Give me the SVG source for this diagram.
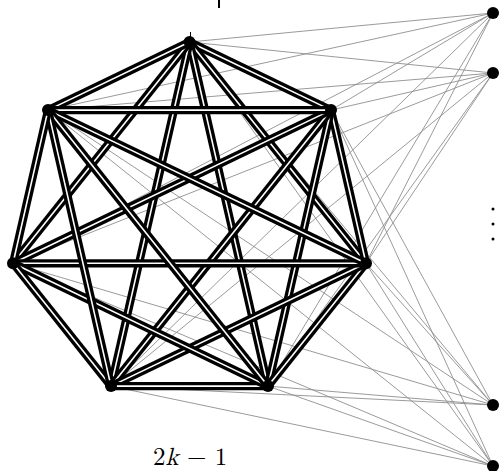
<svg xmlns="http://www.w3.org/2000/svg" width="499" height="471" viewBox="0 0 499 471">
<style>
.g line{stroke:#8f8f8f;stroke-width:0.9}
.b{stroke:#000;stroke-width:8.2}
.w{stroke:#fff;stroke-width:1.6}
.v{fill:#000}
.lbl{font-family:"Latin Modern Math","Liberation Serif",serif;font-size:25px;fill:#000}
</style>
<rect width="499" height="471" fill="#fff"/>
<g id="connectors">
<g class="g">
<line x1="493" y1="13" x2="189.5" y2="42"/><line x1="493" y1="13" x2="331" y2="110.1"/><line x1="493" y1="13" x2="366" y2="263.3"/><line x1="493" y1="13" x2="268" y2="386.1"/><line x1="493" y1="13" x2="111" y2="386.1"/><line x1="493" y1="13" x2="13" y2="263.3"/><line x1="493" y1="13" x2="48" y2="110.1"/>
<line x1="493" y1="73" x2="189.5" y2="42"/><line x1="493" y1="73" x2="331" y2="110.1"/><line x1="493" y1="73" x2="366" y2="263.3"/><line x1="493" y1="73" x2="268" y2="386.1"/><line x1="493" y1="73" x2="111" y2="386.1"/><line x1="493" y1="73" x2="13" y2="263.3"/><line x1="493" y1="73" x2="48" y2="110.1"/>
<line x1="493" y1="405" x2="189.5" y2="42"/><line x1="493" y1="405" x2="331" y2="110.1"/><line x1="493" y1="405" x2="366" y2="263.3"/><line x1="493" y1="405" x2="268" y2="386.1"/><line x1="493" y1="405" x2="111" y2="386.1"/><line x1="493" y1="405" x2="13" y2="263.3"/><line x1="493" y1="405" x2="48" y2="110.1"/>
<line x1="493" y1="466" x2="189.5" y2="42"/><line x1="493" y1="466" x2="331" y2="110.1"/><line x1="493" y1="466" x2="366" y2="263.3"/><line x1="493" y1="466" x2="268" y2="386.1"/><line x1="493" y1="466" x2="111" y2="386.1"/><line x1="493" y1="466" x2="13" y2="263.3"/><line x1="493" y1="466" x2="48" y2="110.1"/>
</g>
<g id="k7">
<line class="b" x1="189.5" y1="42" x2="331" y2="110.1"/><line class="w" x1="189.5" y1="42" x2="331" y2="110.1"/>
<line class="b" x1="189.5" y1="42" x2="366" y2="263.3"/><line class="w" x1="189.5" y1="42" x2="366" y2="263.3"/>
<line class="b" x1="189.5" y1="42" x2="268" y2="386.1"/><line class="w" x1="189.5" y1="42" x2="268" y2="386.1"/>
<line class="b" x1="189.5" y1="42" x2="111" y2="386.1"/><line class="w" x1="189.5" y1="42" x2="111" y2="386.1"/>
<line class="b" x1="189.5" y1="42" x2="13" y2="263.3"/><line class="w" x1="189.5" y1="42" x2="13" y2="263.3"/>
<line class="b" x1="189.5" y1="42" x2="48" y2="110.1"/><line class="w" x1="189.5" y1="42" x2="48" y2="110.1"/>
<line class="b" x1="331" y1="110.1" x2="366" y2="263.3"/><line class="w" x1="331" y1="110.1" x2="366" y2="263.3"/>
<line class="b" x1="331" y1="110.1" x2="268" y2="386.1"/><line class="w" x1="331" y1="110.1" x2="268" y2="386.1"/>
<line class="b" x1="331" y1="110.1" x2="111" y2="386.1"/><line class="w" x1="331" y1="110.1" x2="111" y2="386.1"/>
<line class="b" x1="331" y1="110.1" x2="13" y2="263.3"/><line class="w" x1="331" y1="110.1" x2="13" y2="263.3"/>
<line class="b" x1="331" y1="110.1" x2="48" y2="110.1"/><line class="w" x1="331" y1="110.1" x2="48" y2="110.1"/>
<line class="b" x1="366" y1="263.3" x2="268" y2="386.1"/><line class="w" x1="366" y1="263.3" x2="268" y2="386.1"/>
<line class="b" x1="366" y1="263.3" x2="111" y2="386.1"/><line class="w" x1="366" y1="263.3" x2="111" y2="386.1"/>
<line class="b" x1="366" y1="263.3" x2="13" y2="263.3"/><line class="w" x1="366" y1="263.3" x2="13" y2="263.3"/>
<line class="b" x1="366" y1="263.3" x2="48" y2="110.1"/><line class="w" x1="366" y1="263.3" x2="48" y2="110.1"/>
<line class="b" x1="268" y1="386.1" x2="111" y2="386.1"/><line class="w" x1="268" y1="386.1" x2="111" y2="386.1"/>
<line class="b" x1="268" y1="386.1" x2="13" y2="263.3"/><line class="w" x1="268" y1="386.1" x2="13" y2="263.3"/>
<line class="b" x1="268" y1="386.1" x2="48" y2="110.1"/><line class="w" x1="268" y1="386.1" x2="48" y2="110.1"/>
<line class="b" x1="111" y1="386.1" x2="13" y2="263.3"/><line class="w" x1="111" y1="386.1" x2="13" y2="263.3"/>
<line class="b" x1="111" y1="386.1" x2="48" y2="110.1"/><line class="w" x1="111" y1="386.1" x2="48" y2="110.1"/>
<line class="b" x1="13" y1="263.3" x2="48" y2="110.1"/><line class="w" x1="13" y1="263.3" x2="48" y2="110.1"/>
</g>
<line x1="190.5" y1="32" x2="190.5" y2="37" stroke="#000" stroke-width="1"/>
<rect x="218" y="0" width="2" height="8" fill="#000"/>
</g>
<g id="v0"><circle class="v" cx="189.5" cy="42" r="6"/></g>
<g id="v1"><circle class="v" cx="331" cy="110.1" r="6"/></g>
<g id="v2"><circle class="v" cx="366" cy="263.3" r="6"/></g>
<g id="v3"><circle class="v" cx="268" cy="386.1" r="6"/></g>
<g id="v4"><circle class="v" cx="111" cy="386.1" r="6"/></g>
<g id="v5"><circle class="v" cx="13" cy="263.3" r="6"/></g>
<g id="v6"><circle class="v" cx="48" cy="110.1" r="6"/></g>
<g id="r1"><circle class="v" cx="493" cy="13" r="6"/></g>
<g id="r2"><circle class="v" cx="493" cy="73" r="6"/></g>
<g id="r3"><circle class="v" cx="493" cy="405" r="6"/></g>
<g id="r4"><circle class="v" cx="493" cy="466" r="6"/></g>
<g id="vdots"><circle class="v" cx="493" cy="209" r="1.5"/><circle class="v" cx="493" cy="224" r="1.5"/><circle class="v" cx="493" cy="239" r="1.5"/></g>
<g id="label"><text class="lbl" x="153" y="465">2<tspan font-style="italic">k</tspan> − 1</text></g>
</svg>
